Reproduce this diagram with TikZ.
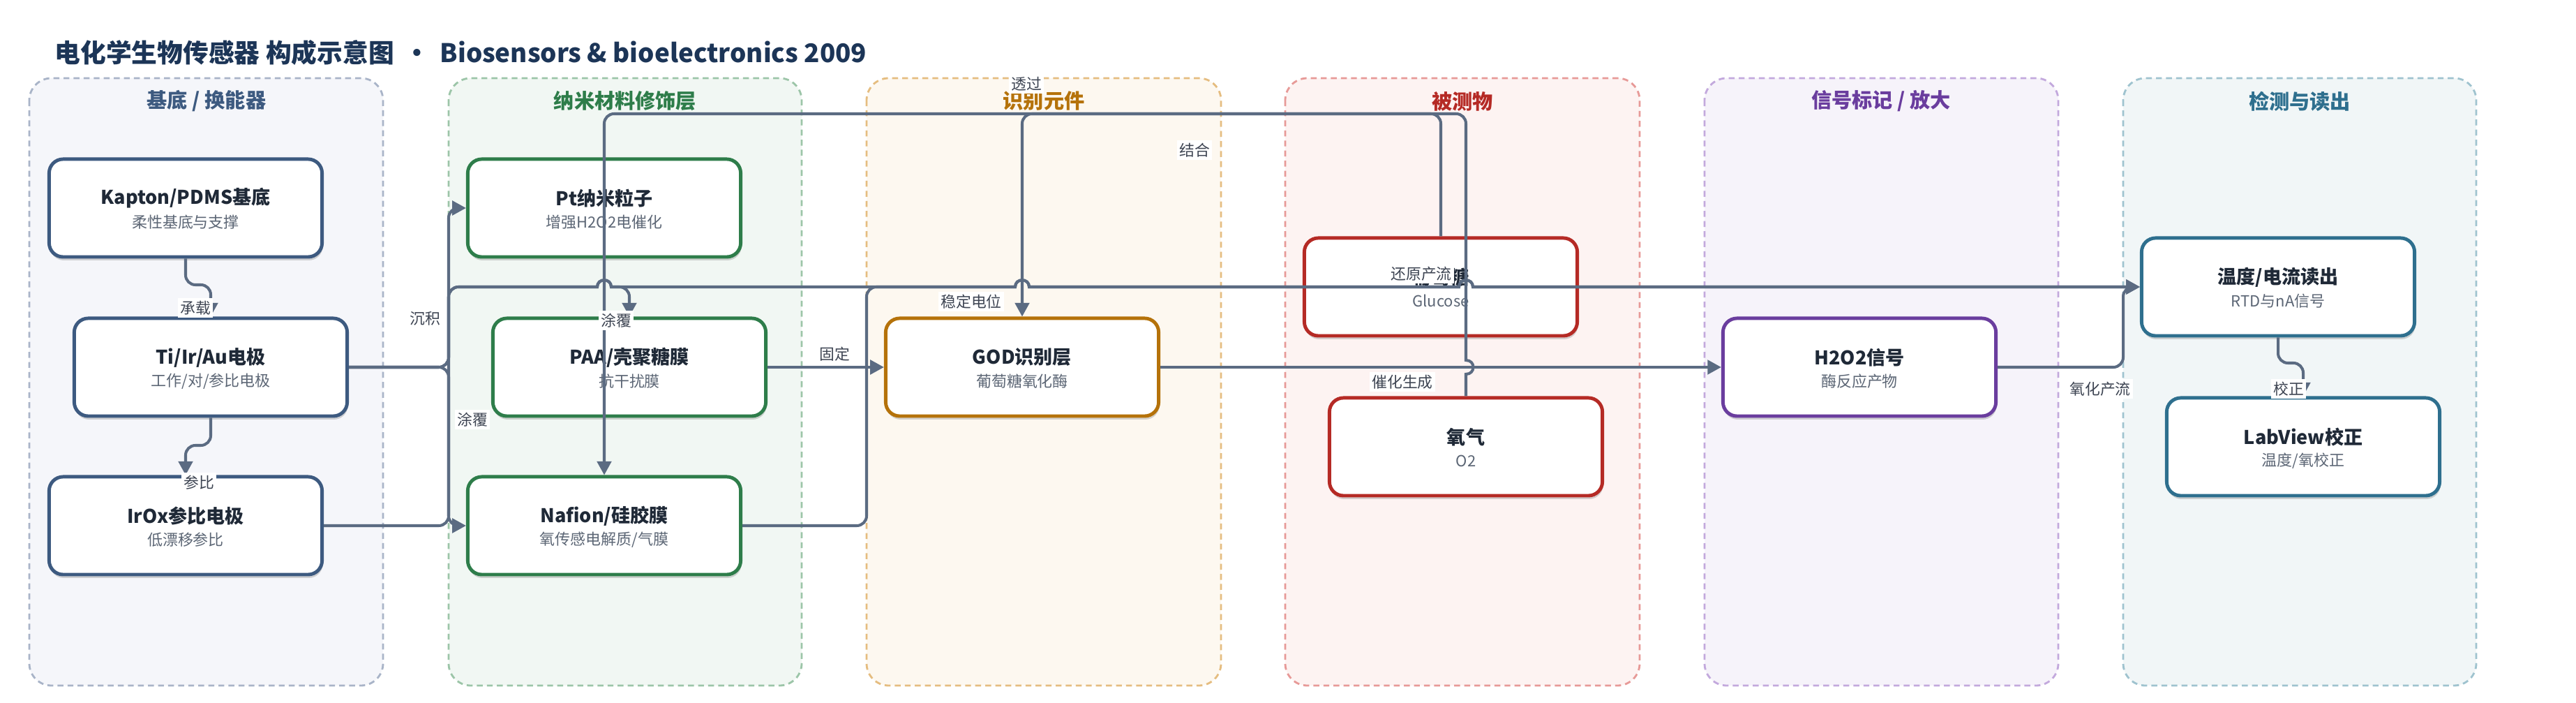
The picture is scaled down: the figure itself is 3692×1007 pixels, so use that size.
\documentclass[tikz,border=0pt]{standalone}
\usepackage{fontspec}
\setmainfont{Noto Sans CJK SC}
\usetikzlibrary{arrows.meta,shadows}
\definecolor{edgec}{HTML}{5B6B82}
\definecolor{titlec}{HTML}{1C3557}
\definecolor{ntc}{HTML}{1F2937}
\definecolor{nsc}{HTML}{5C6675}
\definecolor{lblc}{HTML}{3D4452}
\definecolor{bA}{HTML}{3D5A80}\definecolor{fA}{HTML}{F5F6FA}\definecolor{dA}{HTML}{A9B4C8}
\definecolor{bB}{HTML}{2E7D4A}\definecolor{fB}{HTML}{F1F7F3}\definecolor{dB}{HTML}{9CC5A8}
\definecolor{bC}{HTML}{B5720A}\definecolor{fC}{HTML}{FDF8F0}\definecolor{dC}{HTML}{E5BD80}
\definecolor{bD}{HTML}{B52A25}\definecolor{fD}{HTML}{FDF3F2}\definecolor{dD}{HTML}{E79A98}
\definecolor{bE}{HTML}{6A3D9E}\definecolor{fE}{HTML}{F6F3FA}\definecolor{dE}{HTML}{C3A9DD}
\definecolor{bF}{HTML}{2E6F8E}\definecolor{fF}{HTML}{F1F6F7}\definecolor{dF}{HTML}{9FC3CF}
\tikzset{
  lane/.style={line width=0.8pt, dash pattern=on 2.4pt off 1.7pt, rounded corners=9pt},
  lanetitle/.style={font=\bfseries\fontsize{8.3}{10}\selectfont, inner sep=0pt},
  box/.style={line width=1.4pt, rounded corners=5.7pt, fill=white,
    minimum width=3.91cm, minimum height=1.4cm, inner sep=0pt,
    drop shadow={shadow xshift=0.3pt, shadow yshift=-1.4pt, opacity=0.16, fill=black}},
  ntitle/.style={font=\bfseries\fontsize{7.7}{9}\selectfont, text=ntc, inner sep=0pt},
  nsub/.style={font=\fontsize{6.25}{8}\selectfont, text=nsc, inner sep=0pt},
  edge/.style={draw=edgec, line width=1.15pt, -{Triangle[length=5.6pt,width=5.8pt]}},
  lbl/.style={font=\fontsize{6.2}{8}\selectfont, text=lblc, fill=white, inner sep=1pt}
}
\newcommand\mkbox[6]{%
  \node[box, draw=#4] (#1) at (#2,#3) {};
  \node[ntitle] (#1t) at (#2,#3-14) {#5};
  \node[nsub] (#1s) at (#2,#3+20) {#6};
}
\begin{document}
\begin{tikzpicture}[x=0.01cm,y=-0.01cm]
\useasboundingbox (0,0) rectangle (3692,1007);
\fill[white] (0,0) rectangle (3692,1007);
% title
\node[anchor=west, font=\bfseries\fontsize{10.45}{12}\selectfont, text=titlec, inner sep=0pt] (title) at (78,76)
  {电化学生物传感器 构成示意图 \,•\, Biosensors \& bioelectronics 2009};
% lanes
\draw[lane, draw=dA, fill=fA] (42,112) rectangle (549,982);
\draw[lane, draw=dB, fill=fB] (643,112) rectangle (1149,982);
\draw[lane, draw=dC, fill=fC] (1242,112) rectangle (1750,982);
\draw[lane, draw=dD, fill=fD] (1842,112) rectangle (2350,982);
\draw[lane, draw=dE, fill=fE] (2443,112) rectangle (2950,982);
\draw[lane, draw=dF, fill=fF] (3043,112) rectangle (3549,982);
\node[lanetitle, text=bA] (lA) at (296,145) {基底 / 换能器};
\node[lanetitle, text=bB] (lB) at (896,145) {纳米材料修饰层};
\node[lanetitle, text=bC] (lC) at (1496,145) {识别元件};
\node[lanetitle, text=bD] (lD) at (2096,145) {被测物};
\node[lanetitle, text=bE] (lE) at (2696,145) {信号标记 / 放大};
\node[lanetitle, text=bF] (lF) at (3296,145) {检测与读出};
% nodes
\mkbox{kap}{266}{298}{bA}{Kapton/PDMS基底}{柔性基底与支撑}
\mkbox{ti}{302}{526}{bA}{Ti/Ir/Au电极}{工作/对/参比电极}
\mkbox{irox}{266}{753}{bA}{IrOx参比电极}{低漂移参比}
\mkbox{pt}{866}{298}{bB}{Pt纳米粒子}{增强H2O2电催化}
\mkbox{paa}{902}{526}{bB}{PAA/壳聚糖膜}{抗干扰膜}
\mkbox{naf}{866}{753}{bB}{Nafion/硅胶膜}{氧传感电解质/气膜}
\mkbox{god}{1465}{526}{bC}{GOD识别层}{葡萄糖氧化酶}
\mkbox{glu}{2065}{411}{bD}{葡萄糖}{Glucose}
\mkbox{otwo}{2101}{640}{bD}{氧气}{O2}
\mkbox{hoo}{2665}{526}{bE}{H2O2信号}{酶反应产物}
\mkbox{read}{3265}{411}{bF}{温度/电流读出}{RTD与nA信号}
\mkbox{lab}{3301}{640}{bF}{LabView校正}{温度/氧校正}
% edges
\draw[edge] (kap.south) [rounded corners=4pt] -- (266,408) -- (302,408) -- (ti.north);
\draw[edge] (ti.south) [rounded corners=4pt] -- (302,638) -- (266,638) -- (irox.north);
\draw[edge] (ti.east) [rounded corners=4pt] -- (643,526) -- (643,298) -- (pt.west);
\draw[edge] (ti.east) [rounded corners=4pt] -- (643,526) -- (643,753) -- (naf.west);
\draw[edge] (ti.east) [rounded corners=4pt] -- (643,526) -- (643,411) -- (720,411) [sharp corners]
  -- (856,411) .. controls (856,398) and (876,398) .. (876,411) -- (880,411)
  [rounded corners=4pt] -- (902,411) -- (paa.north);
\draw[edge] (irox.east) [rounded corners=4pt] -- (643,753) -- (643,411) -- (720,411) [sharp corners]
  -- (856,411) .. controls (856,398) and (876,398) .. (876,411)
  -- (1455,411) .. controls (1455,398) and (1475,398) .. (1475,411)
  -- (2091,411) .. controls (2091,398) and (2111,398) .. (2111,411) -- (read.west);
\draw[edge] (naf.east) [rounded corners=4pt] -- (1242,753) -- (1242,411) -- (1300,411) [sharp corners]
  -- (1455,411) .. controls (1455,398) and (1475,398) .. (1475,411)
  -- (2091,411) .. controls (2091,398) and (2111,398) .. (2111,411) -- (read.west);
\draw[edge] (paa.east) -- (god.west);
\draw[edge] (glu.north) [rounded corners=4pt] -- (2065,163) -- (1465,163) -- (god.north);
\draw[edge] (otwo.north) -- (2101,536) .. controls (2115,536) and (2115,516) .. (2101,516) -- (2101,480)
  [rounded corners=4pt] -- (2101,163) -- (866,163) -- (naf.north);
\draw[edge] (god.east) -- (hoo.west);
\draw[edge] (hoo.east) [rounded corners=4pt] -- (3043,526) -- (3043,411) -- (read.west);
\draw[edge] (read.south) [rounded corners=4pt] -- (3265,520) -- (3301,520) -- (lab.north);
% edge labels
\node[lbl] (e1) at (280,441) {承载};
\node[lbl] (e2) at (285,691) {参比};
\node[lbl] (e3) at (609,456) {沉积};
\node[lbl] (e4) at (677,601) {涂覆};
\node[lbl] (e5) at (883,459) {涂覆};
\node[lbl] (e6) at (1196,507) {固定};
\node[lbl] (e7) at (1392,432) {稳定电位};
\node[lbl] (e8) at (1471,120) {透过};
\node[lbl] (e9) at (1712,215) {结合};
\node[lbl] (e10) at (2037,392) {还原产流};
\node[lbl] (e11) at (2010,547) {催化生成};
\node[lbl] (e12) at (3010,557) {氧化产流};
\node[lbl] (e13) at (3280,557) {校正};
\end{tikzpicture}
\end{document}
